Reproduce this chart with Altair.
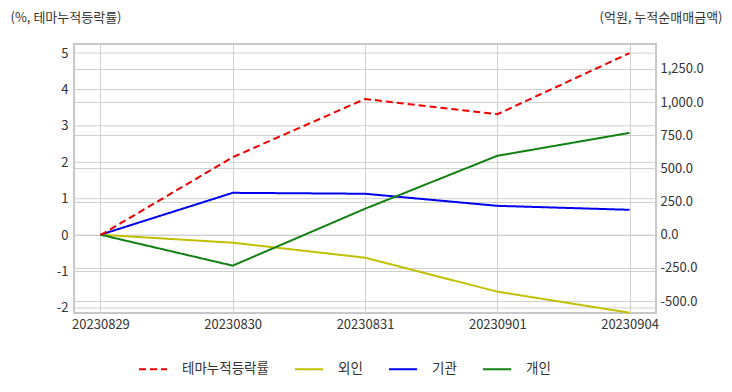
import altair as alt
import pandas as pd

dates = ["20230829", "20230830", "20230831", "20230901", "20230904"]
theme = [0.0, 2.14, 3.74, 3.32, 5.0]
foreign = [0.0, -60.0, -173.0, -429.0, -588.0]
inst = [0.0, 316.0, 309.0, 218.0, 188.0]
indiv = [0.0, -233.0, 196.0, 595.0, 768.0]
left_ticks = [-2, -1, 0, 1, 2, 3, 4, 5]
right_ticks = [-500, -250, 0, 250, 500, 750, 1000, 1250]

series_names = ["테마누적등락률", "외인", "기관", "개인"]
colors = ["#ee0000", "#c0c000", "#0000ee", "#138013"]
dashes = [[7, 4], [1, 0], [1, 0], [1, 0]]

rows = []
for name, vals in zip(series_names, [theme, foreign, inst, indiv]):
    for d, v in zip(dates, vals):
        rows.append({"date": d, "series": name, "value": v})
df = pd.DataFrame(rows)
grid_df = pd.DataFrame({"tick": left_ticks})

FONT = "Noto Sans CJK KR"
TXT = "#333333"
GRID = "#d0d0d0"
LEFT_DOMAIN = [-2.14, 5.25]

legend = alt.Legend(
    title=None, orient="none", legendX=64, legendY=310, direction="horizontal",
    symbolType="stroke", symbolSize=784, symbolStrokeWidth=2,
    labelFontSize=13.5, labelFont=FONT, labelColor=TXT, labelOffset=14,
    columnPadding=22,
)
color = alt.Color("series:N", scale=alt.Scale(domain=series_names, range=colors), legend=legend)
dash = alt.StrokeDash("series:N", scale=alt.Scale(domain=series_names, range=dashes), legend=legend)

x = alt.X(
    "date:O", sort=dates, scale=alt.Scale(type="point", padding=0.2),
    axis=alt.Axis(title=None, labelAngle=0, grid=True, ticks=False, domain=False,
                  labelPadding=5),
)

base = alt.Chart(df)

left_grid = alt.Chart(grid_df).mark_rule(color=GRID, strokeWidth=1).encode(
    y=alt.Y("tick:Q", scale=alt.Scale(domain=LEFT_DOMAIN, nice=False, zero=False), axis=None),
)

left = base.transform_filter(alt.datum.series == "테마누적등락률").mark_line(strokeWidth=2).encode(
    x=x,
    y=alt.Y("value:Q", scale=alt.Scale(domain=LEFT_DOMAIN, nice=False, zero=False),
            axis=alt.Axis(values=left_ticks, title="(%, 테마누적등락률)", orient="left",
                          grid=False,
                          titleAngle=0, titleAlign="left", titleBaseline="middle",
                          titleX=-64, titleY=-27, labelExpr="datum.value + ''",
                          ticks=False, domain=False, labelPadding=6)),
    color=color,
    strokeDash=dash,
)

right = base.transform_filter(alt.datum.series != "테마누적등락률").mark_line(strokeWidth=2).encode(
    x=x,
    y=alt.Y("value:Q", scale=alt.Scale(domain=[-590, 1438], nice=False, zero=False),
            axis=alt.Axis(values=right_ticks, title="(억원, 누적순매매금액)",
                          orient="right", grid=True, titleAngle=0, titleAlign="right",
                          titleBaseline="middle", titleX=66, titleY=-27,
                          labelExpr="(datum.value < 0 ? '-' : '') + format(abs(datum.value), ',.1f')",
                          ticks=False, domain=False, labelPadding=4)),
    color=color,
    strokeDash=dash,
)

chart = alt.layer(left_grid, right, left).resolve_scale(y="independent").properties(
    width=582, height=269,
    autosize=alt.AutoSizeParams(type="none"),
    padding={"left": 66, "top": 36, "right": 68, "bottom": 66},
).configure_view(
    stroke="#c8c8c8", strokeWidth=2
).configure_axis(
    gridColor=GRID, gridWidth=1, labelFont=FONT, labelFontSize=13, labelColor=TXT,
    titleFont=FONT, titleFontSize=13, titleFontWeight="normal", titleColor=TXT,
)

chart.save("out.html", embed_options={"renderer": "svg", "actions": False})
